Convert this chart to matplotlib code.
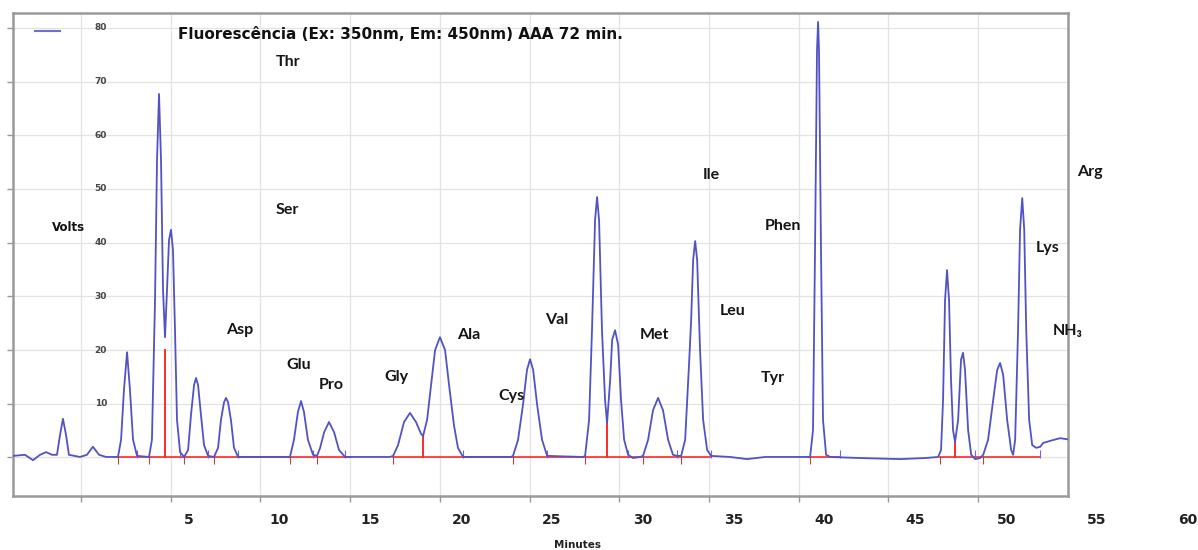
import numpy as np
import matplotlib.pyplot as plt
import matplotlib.transforms as mtransforms

# chromatogram trace (minutes, volts)
trace_t = [-4.68, -4.02, -3.58, -3.19, -2.86, -2.53, -2.26, -2.09, -1.93, -1.76, -1.60, -0.99, -0.61, -0.28, 0.06, 0.44,
           1.10, 1.27, 1.43, 1.60, 1.76, 1.93, 2.15,
           2.81, 2.97, 3.14, 3.25, 3.36, 3.47, 3.58, 3.69, 3.80, 3.91, 4.02, 4.13, 4.24, 4.35, 4.52, 4.74,
           4.96, 5.12, 5.29, 5.40, 5.51, 5.67, 5.84, 6.06,
           6.39, 6.61, 6.77, 6.94, 7.05, 7.16, 7.32, 7.49, 7.71,
           10.46, 10.57, 10.79, 11.01, 11.18, 11.34, 11.56, 11.84, 12.06, 12.23, 12.45, 12.72, 13.00, 13.27, 13.60,
           16.08, 16.25, 16.52, 16.85, 17.18, 17.51, 17.79, 17.90, 18.12, 18.34, 18.56, 18.83, 19.11, 19.33, 19.60, 19.82, 20.10,
           22.74, 22.85, 23.13, 23.40, 23.62, 23.79, 23.96, 24.18, 24.45, 24.73,
           26.71, 26.82, 27.04, 27.20, 27.37, 27.48, 27.59, 27.75, 27.92, 28.03, 28.20, 28.31, 28.47, 28.64, 28.80, 28.97, 29.19, 29.46, 29.85,
           30.01, 30.29, 30.56, 30.84, 31.11, 31.39, 31.66, 31.88,
           32.11, 32.33, 32.55, 32.66, 32.77, 32.88, 32.99, 33.15, 33.32, 33.54, 33.76, 34.80, 35.74, 36.73, 38.93,
           39.21, 39.37, 39.48, 39.59, 39.65, 39.70, 39.81, 39.92, 40.09, 40.31, 41.96, 44.17, 45.54, 46.26,
           46.42, 46.53, 46.64, 46.75, 46.86, 46.97, 47.08, 47.19, 47.36, 47.52, 47.63, 47.74, 47.91, 48.08, 48.30, 48.57,
           48.74, 49.01, 49.29, 49.51, 49.67, 49.84, 50.06, 50.28, 50.39,
           50.50, 50.66, 50.77, 50.89, 51.00, 51.11, 51.27, 51.44, 51.66, 51.88, 52.04, 52.43, 52.98, 53.36]
trace_v = [0.3, 0.5, -0.5, 0.5, 1.0, 0.5, 0.5, 4.2, 7.2, 4.2, 0.5, 0.1, 0.5, 2.0, 0.5, 0.1,
           0.1, 3.3, 12.6, 19.6, 12.6, 3.3, 0.3,
           0.1, 3.3, 29.3, 55.4, 67.7, 55.4, 31.2, 22.4, 31.2, 40.5, 42.4, 38.6, 23.7, 7.0, 1.0, 0.1,
           1.4, 7.9, 13.5, 14.8, 13.5, 7.9, 2.3, 0.3,
           0.1, 1.8, 7.0, 10.3, 11.1, 10.3, 7.0, 1.8, 0.1,
           0.1, 0.1, 3.3, 8.5, 10.5, 8.5, 3.3, 0.5, 0.3, 1.8, 4.7, 6.6, 4.7, 1.4, 0.1,
           0.1, 0.3, 2.3, 6.6, 8.3, 6.6, 4.4, 4.0, 7.0, 13.5, 20.0, 22.4, 20.0, 13.5, 6.0, 1.8, 0.1,
           0.1, 0.3, 3.3, 9.8, 16.3, 18.3, 16.3, 9.8, 3.3, 0.3,
           0.1, 0.3, 7.0, 23.7, 44.2, 48.5, 44.2, 23.7, 10.7, 6.4, 14.4, 21.9, 23.7, 21.0, 10.7, 3.3, 0.5, -0.1, 0.1,
           0.3, 3.3, 8.8, 11.1, 8.8, 3.3, 0.5, 0.3,
           0.3, 3.3, 17.8, 25.6, 36.8, 40.3, 36.8, 20.0, 7.0, 1.4, 0.3, 0.1, -0.3, 0.1, 0.1,
           0.1, 5.1, 38.6, 75.9, 81.1, 75.9, 38.6, 7.0, 0.5, 0.1, -0.1, -0.3, -0.1, 0.1,
           1.4, 10.7, 29.3, 34.9, 29.3, 14.4, 5.1, 2.9, 7.0, 18.2, 19.5, 16.3, 5.1, 0.5, -0.3, -0.1,
           0.5, 3.3, 10.7, 16.3, 17.6, 15.4, 7.0, 1.4, 0.5,
           3.3, 23.7, 42.4, 48.3, 42.4, 23.7, 7.0, 2.3, 1.8, 2.0, 2.7, 3.1, 3.6, 3.4]

# integration baseline segments and drop lines (red)
base_start = [1.05, 16.25, 39.10, 46.37]
base_end = [13.88, 33.70, 40.86, 51.88]
drop_t = [3.69, 17.90, 28.03, 47.19]
drop_v = [20.0, 4.0, 6.4, 2.9]
# peak start / end event marks
start_marks = [1.10, 2.81, 4.74, 6.39, 10.57, 12.06, 16.25, 22.85, 26.82, 30.01, 32.11, 39.21, 46.37, 48.74]
end_marks = [2.15, 4.52, 6.06, 7.71, 11.84, 13.60, 20.10, 24.73, 29.19, 31.88, 33.76, 40.86, 48.30, 51.88]

# axis scale marks of the original plot
x_ticks = [-0.94, 4.00, 8.94, 13.88, 18.82, 23.76, 28.70, 33.64, 38.58, 43.52, 48.46]
y_ticks = [0, 10, 20, 30, 40, 50, 60, 70, 80]
y_labels = ['', '10', '20', '30', '40', '50', '60', '70', '80']
x_labels = [5, 10, 15, 20, 25, 30, 35, 40, 45, 50, 55, 60]

peak_names = ['Thr', 'Ser', 'Asp', 'Glu', 'Pro', 'Gly', 'Ala', 'Cys', 'Val', 'Met', 'Leu', 'Tyr',
              'Ile', 'Phen', 'Arg', 'Lys', 'NH₃']
name_t = [10.46, 10.41, 7.82, 11.07, 12.83, 16.46, 20.43, 22.74, 25.28, 30.62, 34.97, 37.17,
          33.76, 37.72, 54.63, 52.31, 53.41]
name_v = [73.6, 46.1, 23.7, 17.2, 13.5, 15.0, 22.8, 11.5, 25.6, 22.8, 27.3, 14.8,
          52.6, 43.1, 53.2, 39.0, 23.6]

blue = '#5252c4'
red = '#ff2a2a'

fig = plt.figure(figsize=(11.98, 5.50), dpi=100)
ax = fig.add_axes([13 / 1198, 1 - 496 / 550, 1055 / 1198, 483 / 550])
ax.set_xlim(-4.68, 53.41)
ax.set_ylim(-7.17, 82.77)

# grid
for xt in x_ticks:
    ax.axvline(xt, color='#e3e3e3', lw=0.9, zorder=0)
for yt in y_ticks:
    ax.axhline(yt, color='#e3e3e3', lw=0.9, zorder=0)

# red integration lines
for s, e in zip(base_start, base_end):
    ax.plot([s, e], [0, 0], color=red, lw=1.2, zorder=2)
for t, v in zip(drop_t, drop_v):
    ax.plot([t, t], [0, v], color=red, lw=1.4, zorder=2)
ax.plot(start_marks, [-0.4] * len(start_marks), ls='none', marker='|', ms=6, mew=0.8, color='#c04040', zorder=2)
ax.plot(end_marks, [0.6] * len(end_marks), ls='none', marker='|', ms=6, mew=0.8, color='#6a6ad8', zorder=2)

ax.plot(trace_t, trace_v, color=blue, lw=1.3, zorder=3, solid_joinstyle='round')

# legend line
ax.plot([0.021, 0.045], [0.963, 0.963], color='#7070d0', lw=1.5, transform=ax.transAxes)

# inner y labels
for yt, lab in zip(y_ticks, y_labels):
    ax.text(0.15, yt, lab, fontsize=6.5, color='#444444', ha='center', va='center', fontweight='bold')

ax.set_xticks(x_ticks)
ax.set_yticks(y_ticks)
ax.set_xticklabels([])
ax.set_yticklabels([])
ax.tick_params(axis='both', direction='out', length=4, color='#999999', width=1)
for sp in ax.spines.values():
    sp.set_color('#9a9a9a')
    sp.set_linewidth(1.8)

trans = mtransforms.blended_transform_factory(ax.transData, ax.transAxes)
for xl in x_labels:
    ax.text(xl, -0.05, str(xl), transform=trans, fontsize=10, fontweight='bold', color='#222222',
            ha='center', va='center', clip_on=False)
ax.text(26.42, -0.102, 'Minutes', transform=trans, fontsize=7.5, fontweight='bold', color='#222222',
        ha='center', va='center', clip_on=False)

ax.text(-1.65, 42.9, 'Volts', fontsize=8.5, fontweight='bold', color='#111111', ha='center', va='center')
ax.text(4.41, 78.8, 'Fluorescência (Ex: 350nm, Em: 450nm) AAA 72 min.', fontsize=11, fontweight='bold',
        color='#111111', ha='left', va='center')

for name, t, v in zip(peak_names, name_t, name_v):
    ax.text(t, v, name, fontsize=11.5, fontweight='bold', family=['Lato', 'DejaVu Sans'],
            color='#151515', ha='center', va='center', clip_on=False)

fig.savefig('out.png', dpi=100)
